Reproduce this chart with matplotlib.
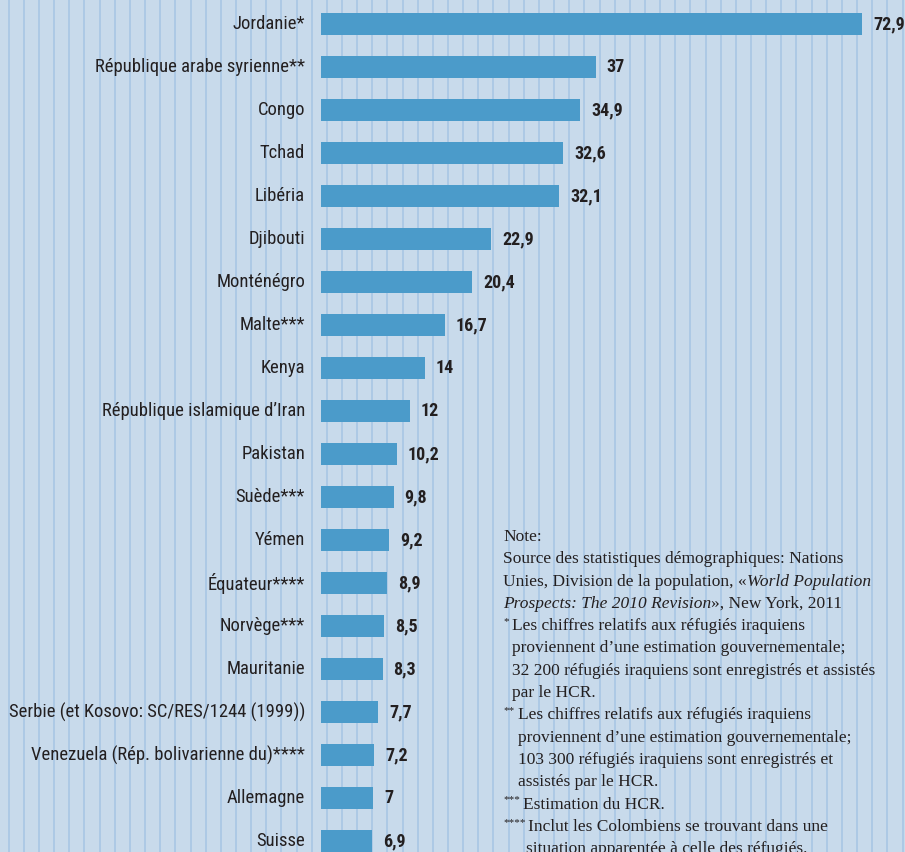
import matplotlib

matplotlib.use("Agg")
import matplotlib.pyplot as plt
from matplotlib import font_manager

# data
pays = [
    "Jordanie*", "République arabe syrienne**", "Congo", "Tchad", "Libéria",
    "Djibouti", "Monténégro", "Malte***", "Kenya", "République islamique d’Iran",
    "Pakistan", "Suède***", "Yémen", "Équateur****", "Norvège***", "Mauritanie",
    "Serbie (et Kosovo: SC/RES/1244 (1999))", "Venezuela (Rép. bolivarienne du)****",
    "Allemagne", "Suisse",
]
valeurs = [72.9, 37, 34.9, 32.6, 32.1, 22.9, 20.4, 16.7, 14, 12,
           10.2, 9.8, 9.2, 8.9, 8.5, 8.3, 7.7, 7.2, 7, 6.9]

BG = "#c8daeb"
STRIPE = "#a6c5e4"
BAR = "#4b9bca"
INK = "#231f20"

names = {f.name for f in font_manager.fontManager.ttflist}
cond = "DejaVu Sans"
for cand in ["Roboto Condensed", "Liberation Sans Narrow", "Open Sans Condensed",
             "DejaVu Sans Condensed", "Noto Sans Condensed"]:
    if cand in names:
        cond = cand
        break
serif = "Liberation Serif" if "Liberation Serif" in names else "DejaVu Serif"

W, H = 905, 852
fig = plt.figure(figsize=(W / 100, H / 100), dpi=100)
fig.patch.set_facecolor(BG)
ax = fig.add_axes([0, 0, 1, 1])
ax.set_facecolor(BG)

# stripes in figure pixels
x = 8.7
while x < W:
    fig.add_artist(plt.Line2D([x / W, x / W], [0, 1], color=STRIPE, lw=1.1, zorder=0))
    x += 15.15

# scale: bar start at 321 px, 7.42 px per unit; rows every 43 px, first at 24 px
px_unit = 7.42
ax.set_xlim(-321 / px_unit, (W - 321) / px_unit)
ax.set_ylim(19 + (H - 841) / 43, -24 / 43)
ax.axis("off")

ypos = list(range(len(pays)))
ax.barh(ypos, valeurs, height=0.51, color=BAR, zorder=2)

for y, nom, v in zip(ypos, pays, valeurs):
    ax.annotate(nom, xy=(0, y), xytext=(-16 * 0.72, 0), textcoords="offset points",
                ha="right", va="center", fontsize=13.4, color=INK, family=[cond, "DejaVu Sans"])
    txt = f"{v:g}".replace(".", ",")
    ax.annotate(txt, xy=(v, y), xytext=(11 * 0.72, 0), textcoords="offset points",
                ha="left", va="center", fontsize=13, color=INK, fontweight="bold",
                family=[cond, "DejaVu Sans"])

# note block: (x of text, marker, pieces)
lines = [
    (503, "", [("Note:", "normal")]),
    (503, "", [("Source des statistiques démographiques: Nations", "normal")]),
    (503, "", [("Unies, Division de la population, «", "normal"), ("World Population", "italic")]),
    (503, "", [("Prospects: The 2010 Revision", "italic"), ("», New York, 2011", "normal")]),
    (512, "*", [("Les chiffres relatifs aux réfugiés iraquiens", "normal")]),
    (512, "", [("proviennent d’une estimation gouvernementale;", "normal")]),
    (512, "", [("32 200 réfugiés iraquiens sont enregistrés et assistés", "normal")]),
    (512, "", [("par le HCR.", "normal")]),
    (518, "**", [("Les chiffres relatifs aux réfugiés iraquiens", "normal")]),
    (518, "", [("proviennent d’une estimation gouvernementale;", "normal")]),
    (518, "", [("103 300 réfugiés iraquiens sont enregistrés et", "normal")]),
    (518, "", [("assistés par le HCR.", "normal")]),
    (523, "***", [("Estimation du HCR.", "normal")]),
    (528, "****", [("Inclut les Colombiens se trouvant dans une", "normal")]),
    (526, "", [("situation apparentée à celle des réfugiés.", "normal")]),
]
y0 = 541
for i, (x0, mark, pieces) in enumerate(lines):
    yb = y0 + i * 22.3
    if mark:
        fig.text(503 / W, 1 - (yb - 6) / H, mark, ha="left", va="baseline",
                 color=INK, family=serif, fontsize=8)
    prev = None
    for s, style in pieces:
        kw = dict(color=INK, family=serif, fontsize=12.5,
                  fontstyle="italic" if style == "italic" else "normal")
        if prev is None:
            prev = fig.text(x0 / W, 1 - yb / H, s, ha="left", va="baseline", **kw)
        else:
            prev = ax.annotate(s, xy=(1, 0), xycoords=prev, ha="left", va="bottom", **kw)

fig.savefig("out.png", dpi=100, facecolor=BG)
